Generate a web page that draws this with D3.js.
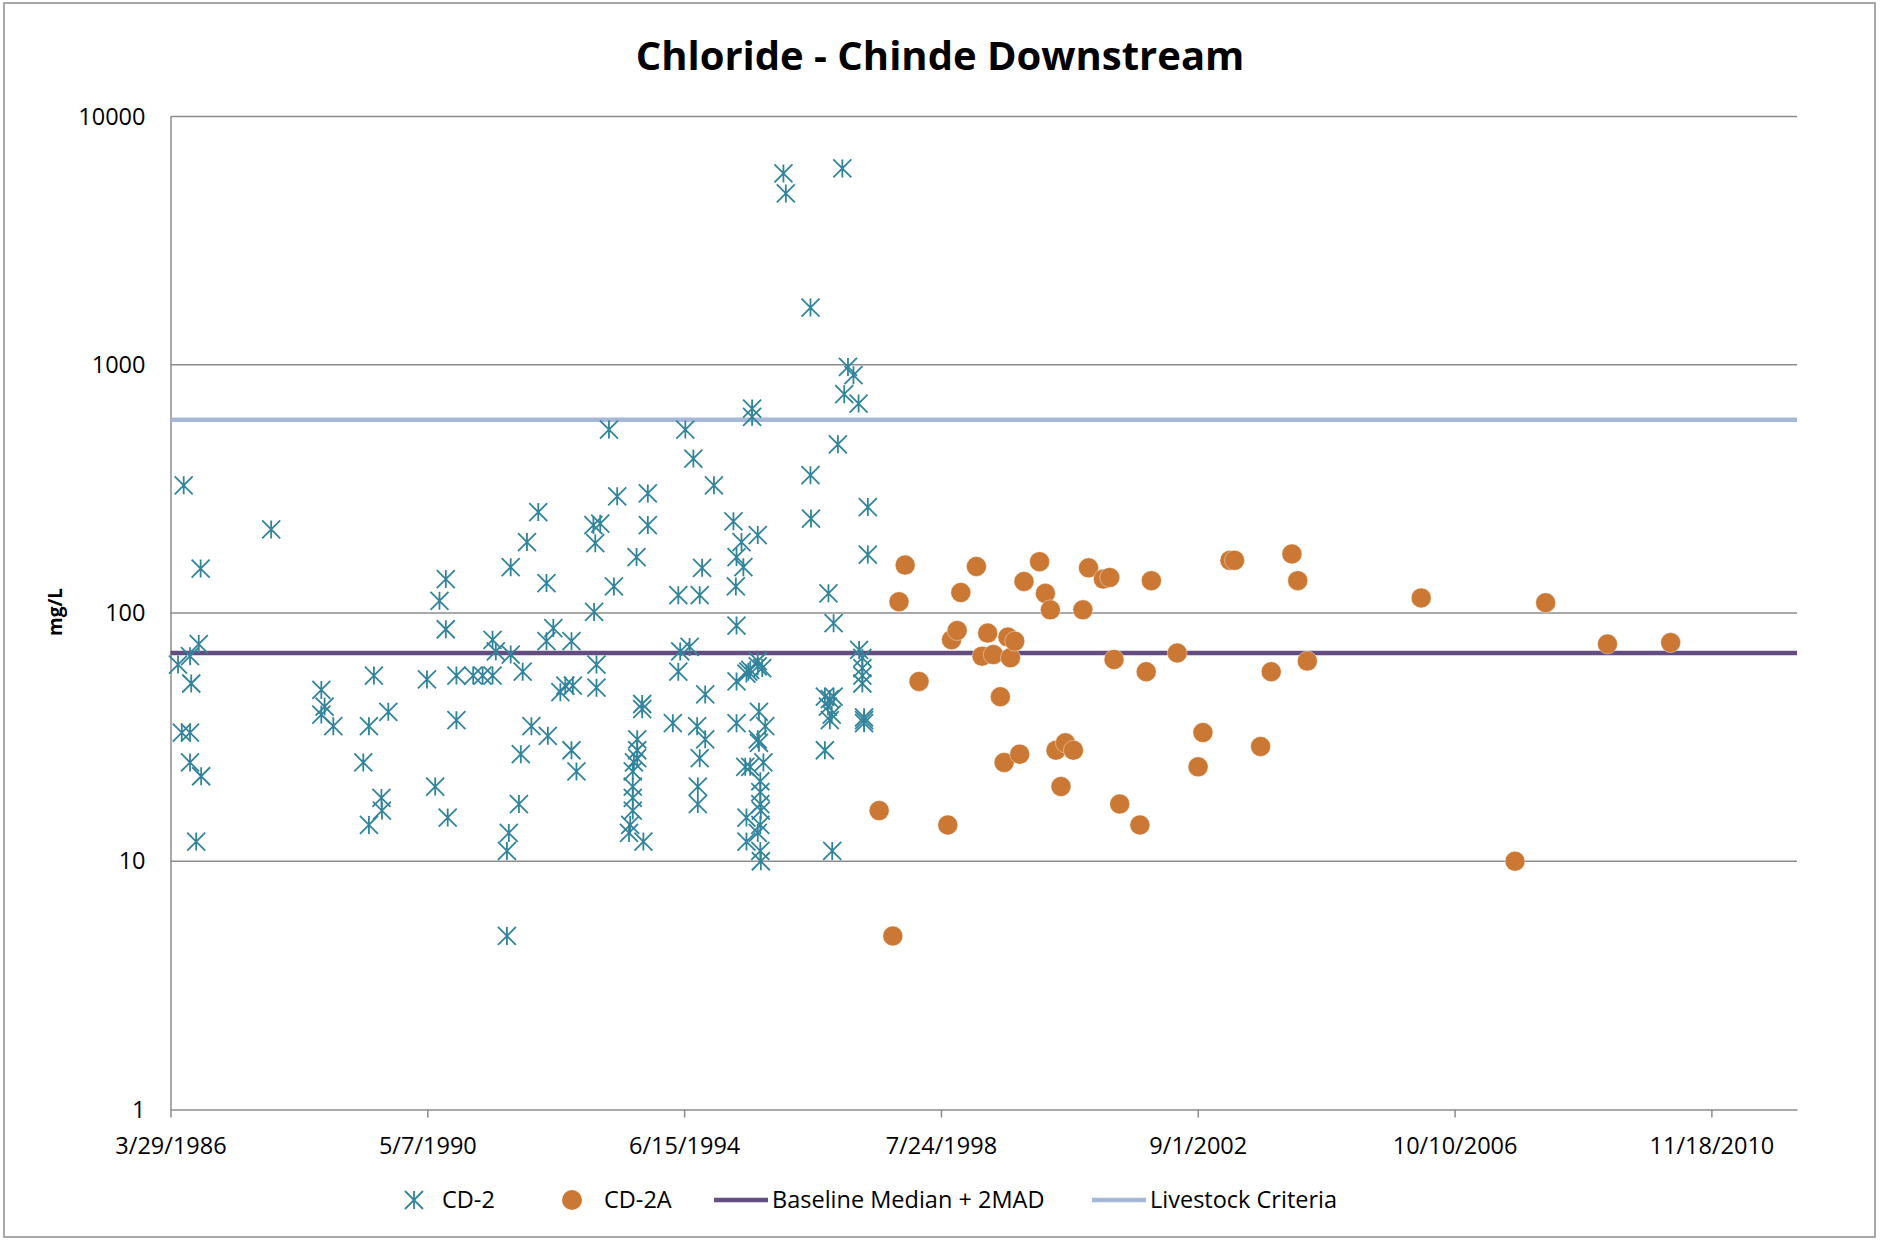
<!DOCTYPE html>
<html>
<head>
<meta charset="utf-8">
<script src="https://cdn.jsdelivr.net/npm/d3@7"></script>
<style>
  body { margin: 0; background: #fff; }
  text { font-family: "Open Sans", sans-serif; fill: #000; }
</style>
</head>
<body>
<div id="chart"></div>
<script>
const width = 1881;
const height = 1242;

// plot area
const plotLeft = 170.5;
const plotRight = 1797;
const plotTop = 116.5;
const plotBottom = 1109.5;

// axis settings
const xMin = "3/29/1986";
const xMax = "4/1/2012";
const xTickLabels = ["3/29/1986", "5/7/1990", "6/15/1994", "7/24/1998", "9/1/2002", "10/10/2006", "11/18/2010"];
const yTicks = [1, 10, 100, 1000, 10000];

// reference lines (mg/L)
const baselineValue = 69;
const livestockValue = 600;

// CD-2 samples
const cd2Dates = [
  "1986-05-12","1986-06-03","1986-06-14","1986-07-21","1986-07-21","1986-07-21","1986-07-28","1986-08-26","1986-09-10","1986-09-21","1986-09-24",
  "1987-11-07",
  "1988-08-26","1988-08-26","1988-09-14","1988-11-04",
  "1989-04-28","1989-05-31","1989-05-31","1989-06-29","1989-08-12","1989-08-15","1989-09-21",
  "1990-05-05","1990-06-22","1990-07-17","1990-08-23","1990-08-23","1990-09-03","1990-10-24","1990-10-24",
  "1991-01-30","1991-03-26","1991-05-23","1991-05-23","1991-06-11","1991-08-15","1991-08-15","1991-08-26","1991-09-06","1991-09-06","1991-10-24","1991-11-04","1991-11-15","1991-12-10",
  "1992-01-05","1992-02-14","1992-04-02","1992-04-02","1992-04-10","1992-05-12","1992-06-22","1992-07-21","1992-08-26","1992-08-26","1992-09-03","1992-09-24",
  "1993-01-01","1993-01-05","1993-01-12","1993-01-19","1993-01-19","1993-02-10","1993-04-02","1993-05-01","1993-05-20","1993-07-28","1993-08-04",
  "1993-08-19","1993-08-19","1993-08-19","1993-08-19","1993-08-26","1993-09-10","1993-09-14","1993-09-14","1993-09-14","1993-10-13","1993-10-13","1993-10-20","1993-11-15","1993-11-15",
  "1994-04-10","1994-05-12","1994-05-12","1994-05-23","1994-06-22","1994-07-17","1994-08-08","1994-08-30","1994-09-03","1994-09-03","1994-09-14","1994-09-14","1994-09-28","1994-10-16","1994-10-16","1994-12-06",
  "1995-03-30","1995-04-13","1995-04-17","1995-04-17","1995-04-17","1995-04-17","1995-05-16","1995-05-27","1995-06-07","1995-06-14","1995-06-14","1995-06-14","1995-06-25","1995-07-06","1995-07-06","1995-07-17","1995-07-17",
  "1995-08-19","1995-08-19","1995-08-19","1995-08-19","1995-08-19","1995-08-26","1995-08-26","1995-09-03","1995-09-03","1995-09-03","1995-09-03","1995-09-03","1995-09-06","1995-09-06","1995-09-14","1995-09-21","1995-10-02",
  "1996-01-16","1996-01-30","1996-06-22","1996-06-22","1996-06-25","1996-09-14","1996-09-14","1996-10-02","1996-10-05","1996-10-13","1996-10-13","1996-10-24","1996-10-27","1996-11-04","1996-11-04","1996-11-29","1996-12-25",
  "1997-01-05","1997-01-27","1997-02-28","1997-03-30","1997-04-02","1997-04-21","1997-04-21","1997-04-21","1997-04-21","1997-05-01","1997-05-01","1997-05-01","1997-05-23","1997-05-23"
];
const cd2Values = [
  62, 33, 327, 67, 33, 25, 52, 12, 75, 151, 22,
  217,
  49, 39, 42, 35,
  25, 35, 14, 56, 18, 16, 40,
  54, 20, 112, 137, 86, 15, 56, 37,
  56, 56, 56, 78, 70, 11, 5, 13, 153, 68, 17, 27, 58, 193,
  35, 255, 132, 77, 32, 87, 48, 51, 77, 28, 51, 23,
  226, 101, 191, 62, 50, 229, 548, 128, 295, 13, 14,
  23, 20, 18, 16, 25, 168, 31, 28, 26, 43, 41, 12, 303, 226,
  36, 118, 58, 70, 548, 73, 419, 35, 20, 17, 118, 26, 152, 47, 31, 327,
  234, 128, 168, 89, 53, 36, 193, 153, 24, 57, 15, 12, 58, 59, 24, 666, 617,
  206, 64, 61, 31, 13, 40, 30, 21, 19, 17, 14, 11, 16, 10, 60, 25, 35,
  5900, 4900, 1700, 359, 240, 28, 46, 42, 120, 45, 37, 39, 11, 91, 46, 478, 6180,
  761, 980, 908, 698, 71, 66, 60, 56, 52, 38, 37, 36, 267, 172
];

// CD-2A samples
const cd2aDates = [
  "1997-07-28","1997-10-16","1997-11-21","1997-12-27",
  "1998-03-18","1998-09-02","1998-09-24","1998-10-27","1998-11-17",
  "1999-02-16","1999-03-21","1999-04-23","1999-05-26","1999-07-06","1999-07-28","1999-08-19","1999-09-03","1999-09-28","1999-10-27","1999-11-21",
  "2000-02-20","2000-03-25","2000-04-23","2000-05-26","2000-06-24","2000-07-20","2000-09-05","2000-10-30","2000-12-02",
  "2001-02-27","2001-04-05","2001-04-30","2001-06-02","2001-09-28","2001-11-04",
  "2001-12-04","2002-05-04","2002-09-03","2002-10-01",
  "2003-03-08","2003-04-04","2003-09-03","2003-11-04",
  "2004-03-04","2004-04-07","2004-06-02",
  "2006-03-29","2007-09-28","2008-03-25","2009-03-21","2010-03-25"
];
const cd2aValues = [
  16, 5, 111, 156,
  53, 14, 78, 85, 121,
  154, 67, 83, 68, 46, 25, 80, 66, 77, 27, 134,
  161, 120, 103, 28, 20, 30, 28, 103, 152,
  137, 139, 65, 17, 14, 58,
  135, 69, 24, 33,
  163, 163, 29, 58,
  173, 135, 64,
  115, 10, 110, 75, 76
];

const cd2Color = "#31849B";
const cd2aColor = "#CB7834";
const baselineColor = "#634C80";
const livestockColor = "#A6B8D8";
const gridColor = "#8C8C8C";

const parseISO = d3.utcParse("%Y-%m-%d");
const parseUS = d3.utcParse("%m/%d/%Y");

const cd2 = cd2Dates.map((d, i) => ({ date: parseISO(d), value: cd2Values[i] }));
const cd2a = cd2aDates.map((d, i) => ({ date: parseISO(d), value: cd2aValues[i] }));

const svg = d3.select("#chart").append("svg")
  .attr("width", width)
  .attr("height", height);

// outer frame
svg.append("rect")
  .attr("x", 4).attr("y", 3)
  .attr("width", 1871).attr("height", 1234)
  .attr("fill", "#fff")
  .attr("stroke", gridColor)
  .attr("stroke-width", 1.5);

const x = d3.scaleUtc()
  .domain([parseUS(xMin), parseUS(xMax)])
  .range([plotLeft, plotRight]);

const y = d3.scaleLog()
  .domain([yTicks[0], yTicks[yTicks.length - 1]])
  .range([plotBottom, plotTop]);

// horizontal gridlines
svg.append("g")
  .selectAll("line")
  .data(yTicks.slice(1))
  .enter()
  .append("line")
  .attr("x1", plotLeft).attr("x2", plotRight)
  .attr("y1", d => y(d)).attr("y2", d => y(d))
  .attr("stroke", gridColor)
  .attr("stroke-width", 1.5);

// Y axis
const yAxis = svg.append("g")
  .attr("transform", `translate(${plotLeft},0)`)
  .call(d3.axisLeft(y).tickValues(yTicks).tickFormat(d3.format("d")).tickSize(0).tickPadding(25));
yAxis.select(".domain").attr("stroke", gridColor).attr("stroke-width", 1.5);
yAxis.selectAll("text").style("font-size", "23.5px").style("font-family", "'Open Sans', sans-serif");

// X axis
const xTickDates = xTickLabels.map(parseUS);
const xAxis = svg.append("g")
  .attr("transform", `translate(0,${plotBottom})`)
  .call(d3.axisBottom(x).tickValues(xTickDates).tickFormat((d, i) => xTickLabels[i]).tickSize(8).tickSizeOuter(0).tickPadding(20));
xAxis.select(".domain").attr("stroke", gridColor).attr("stroke-width", 1.5);
xAxis.selectAll(".tick line").attr("stroke", gridColor).attr("stroke-width", 1.5);
xAxis.selectAll("text").style("font-size", "23.5px").style("font-family", "'Open Sans', sans-serif");

// reference lines
svg.append("line")
  .attr("x1", plotLeft).attr("x2", plotRight)
  .attr("y1", y(baselineValue)).attr("y2", y(baselineValue))
  .attr("stroke", baselineColor)
  .attr("stroke-width", 4.5);

svg.append("line")
  .attr("x1", plotLeft).attr("x2", plotRight)
  .attr("y1", y(livestockValue)).attr("y2", y(livestockValue))
  .attr("stroke", livestockColor)
  .attr("stroke-width", 4.5);

// asterisk marker (vertical bar + X)
const s = 9;
const starPath = `M0,${-s}V${s}M${-s},${-s}L${s},${s}M${-s},${s}L${s},${-s}`;

svg.append("g")
  .selectAll("path")
  .data(cd2)
  .enter()
  .append("path")
  .attr("transform", d => `translate(${x(d.date)},${y(d.value)})`)
  .attr("d", starPath)
  .attr("fill", "none")
  .attr("stroke", cd2Color)
  .attr("stroke-width", 1.8);

svg.append("g")
  .selectAll("circle")
  .data(cd2a)
  .enter()
  .append("circle")
  .attr("cx", d => x(d.date))
  .attr("cy", d => y(d.value))
  .attr("r", 10)
  .attr("fill", cd2aColor)
  .attr("stroke", "#fff")
  .attr("stroke-opacity", 0.5)
  .attr("stroke-width", 0.8);

// Chart title
svg.append("text")
  .attr("x", 940)
  .attr("y", 70)
  .attr("text-anchor", "middle")
  .style("font-weight", "bold")
  .style("font-size", "40px")
  .text("Chloride - Chinde Downstream");

// Y axis title
svg.append("text")
  .attr("transform", "translate(62,612)rotate(-90)")
  .attr("text-anchor", "middle")
  .style("font-weight", "bold")
  .style("font-size", "19px")
  .text("mg/L");

// legend
const legendY = 1200;
const legend = svg.append("g").style("font-size", "23.5px");

legend.append("path")
  .attr("transform", `translate(414,${legendY})`)
  .attr("d", starPath)
  .attr("fill", "none")
  .attr("stroke", cd2Color)
  .attr("stroke-width", 1.8);
legend.append("text").attr("x", 442).attr("y", legendY).attr("dy", "0.35em").text("CD-2");

legend.append("circle")
  .attr("cx", 572).attr("cy", legendY).attr("r", 10)
  .attr("fill", cd2aColor);
legend.append("text").attr("x", 604).attr("y", legendY).attr("dy", "0.35em").text("CD-2A");

legend.append("line")
  .attr("x1", 714).attr("x2", 768).attr("y1", legendY).attr("y2", legendY)
  .attr("stroke", baselineColor).attr("stroke-width", 4.5);
legend.append("text").attr("x", 772).attr("y", legendY).attr("dy", "0.35em").text("Baseline Median + 2MAD");

legend.append("line")
  .attr("x1", 1092).attr("x2", 1146).attr("y1", legendY).attr("y2", legendY)
  .attr("stroke", livestockColor).attr("stroke-width", 4.5);
legend.append("text").attr("x", 1150).attr("y", legendY).attr("dy", "0.35em").text("Livestock Criteria");
</script>
</body>
</html>
